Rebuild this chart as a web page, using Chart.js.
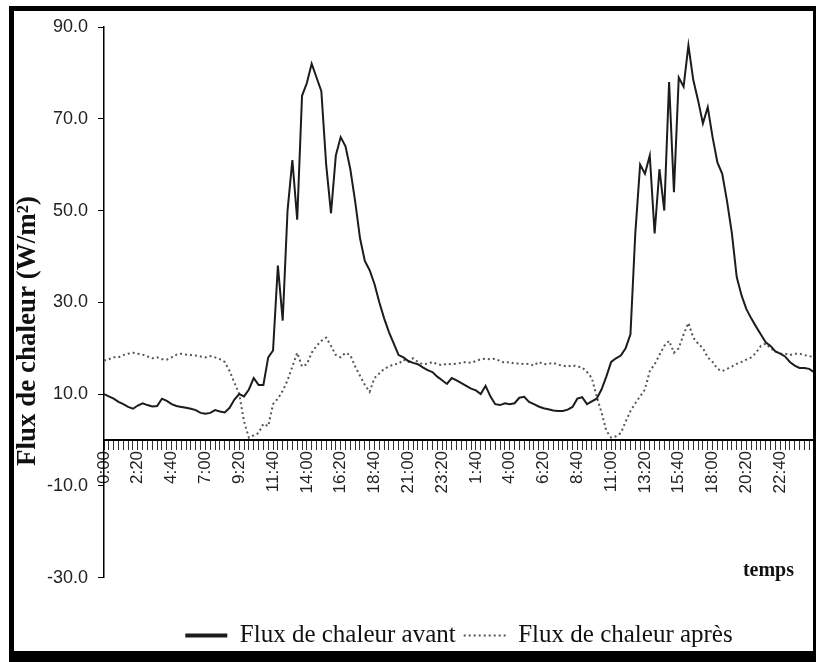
<!DOCTYPE html>
<html>
<head>
<meta charset="utf-8">
<script src="https://cdn.jsdelivr.net/npm/chart.js@4.4.1/dist/chart.umd.min.js"></script>
<style>
  html, body { margin: 0; padding: 0; background: #fff; }
  #wrap { position: relative; width: 816px; height: 662px; }
  #myChart { position: absolute; left: 0; top: 0; }
  #frame {
    position: absolute; left: 9px; top: 6px; right: 0; bottom: 0;
    border-left: 5px solid #000; border-top: 5px solid #000;
    border-right: 3px solid #000; border-bottom: 11px solid #000;
    pointer-events: none;
  }
</style>
</head>
<body>
<div id="wrap">
  <canvas id="myChart" width="816" height="662"></canvas>
  <div id="frame"></div>
</div>
<script>
// 20 minute steps over two days
const times = [];
for (let m = 0; m < 148 * 20; m += 20) {
    const h = Math.floor(m / 60) % 24;
    const mm = m % 60;
    times.push(h + ':' + (mm < 10 ? '0' + mm : mm));
}

const fluxAvant = [
    10, 9.5, 9, 8.3, 7.8, 7.2, 6.8, 7.5, 8, 7.6,
    7.3, 7.4, 9, 8.5, 7.8, 7.4, 7.2, 7, 6.8, 6.5,
    5.9, 5.7, 5.9, 6.5, 6.2, 6, 7, 8.8, 10, 9.5,
    11, 13.5, 12, 12, 18, 19.5, 38, 26, 50, 61,
    48, 75, 77.8, 82, 79, 76, 60, 49.4, 62, 66,
    64, 59, 52, 44, 39, 37, 34, 30, 26.5, 23.5,
    21, 18.5, 18, 17.2, 16.8, 16.5, 15.8, 15.2, 14.8, 13.8,
    13, 12.2, 13.5, 13, 12.4, 11.8, 11.2, 10.8, 10, 11.8,
    9.5, 7.8, 7.6, 8, 7.8, 8, 9.2, 9.4, 8.3, 7.8,
    7.3, 6.9, 6.7, 6.4, 6.3, 6.3, 6.6, 7.2, 9, 9.3,
    7.8, 8.4, 9, 11, 13.8, 17, 17.8, 18.4, 20, 23,
    45, 60, 58, 62, 45, 59, 50, 78, 54, 79,
    77, 86, 78.5, 74, 69, 72.5, 66, 60.5, 58, 52,
    45, 35.5, 31.5, 28.5, 26.5, 24.7, 23, 21.3, 20.5, 19.3,
    18.8, 18.2, 17, 16.2, 15.7, 15.7, 15.5, 14.8
];

const fluxApres = [
    17.3, 17.6, 18, 18, 18.5, 18.8, 19, 18.8, 18.6, 18.2,
    17.8, 18, 17.6, 17.5, 18, 18.6, 18.8, 18.6, 18.5, 18.4,
    18.2, 18, 18.3, 18, 17.6, 17, 15, 12.5, 10, 4,
    0.5, 1, 1.5, 3.5, 3, 7.8, 9, 10.7, 13, 16,
    19, 16, 16.5, 19, 20.5, 21.6, 22.3, 20.5, 18.5, 18,
    19, 18.5, 16, 14, 12, 10.5, 13.5, 14.5, 15.5, 16,
    16.5, 16.6, 17.5, 17, 17.8, 17, 16.5, 16.6, 17, 16.5,
    16.3, 16.6, 16.5, 16.6, 16.8, 17, 16.8, 17.2, 17.6, 17.7,
    17.6, 17.7, 17.2, 16.8, 17, 16.6, 16.7, 16.5, 16.6, 16.2,
    17, 16.5, 16.6, 16.8, 16.4, 16.2, 16, 16.3, 16, 15.8,
    14.8, 13.5, 9.5, 6, 2, 0.5, 0.8, 1.5, 4, 6.3,
    8, 9.5, 11, 15, 16.5, 18.5, 20.5, 21.6, 19, 20,
    23, 25.5, 22.3, 21, 20, 18, 17, 15.5, 15, 15.5,
    16, 16.6, 17, 17.5, 18, 19, 20.5, 21, 20, 19.3,
    18.8, 18.8, 18.5, 18.8, 18.8, 18.5, 18.3, 18
];

const seriesNames = ['Flux de chaleur avant', 'Flux de chaleur après'];
const yTicks = [-30, -10, 10, 30, 50, 70, 90];
const yTitle = 'Flux de chaleur (W/m²)';
const xTitle = 'temps';

// axis titles placed like the scanned figure
const axisTitles = {
    id: 'axisTitles',
    afterDraw(chart) {
        const {ctx, chartArea} = chart;
        ctx.save();
        ctx.fillStyle = '#111';
        ctx.font = 'bold 20px "Liberation Serif", serif';
        ctx.textAlign = 'right';
        ctx.textBaseline = 'middle';
        ctx.fillText(xTitle, chartArea.right - 20, 571);
        ctx.translate(28, 331);
        ctx.rotate(-Math.PI / 2);
        ctx.textAlign = 'center';
        ctx.font = 'bold 27px "Liberation Serif", serif';
        ctx.fillText(yTitle, 0, 0);
        ctx.restore();
    }
};

const data = {
    labels: times,
    datasets: [{
        label: seriesNames[0],
        data: fluxAvant,
        borderColor: '#1c1c1c',
        backgroundColor: '#1c1c1c',
        borderWidth: 2,
        pointRadius: 0,
        tension: 0
    }, {
        label: seriesNames[1],
        data: fluxApres,
        borderColor: '#555',
        backgroundColor: '#555',
        borderWidth: 2,
        borderDash: [2, 3],
        pointRadius: 0,
        tension: 0
    }]
};

const config = {
    type: 'line',
    data,
    plugins: [axisTitles],
    options: {
        responsive: false,
        animation: false,
        layout: { padding: { left: 10, top: 27, right: 2, bottom: 4 } },
        plugins: {
            tooltip: { enabled: false },
            legend: {
                position: 'bottom',
                fullSize: false,
                title: { display: true, text: '', font: { size: 12 }, padding: { top: 14, bottom: 9 } },
                labels: {
                    color: '#111',
                    usePointStyle: true,
                    pointStyleWidth: 42,
                    boxHeight: 6,
                    padding: 8,
                    font: { size: 25, family: '"Liberation Serif", serif' },
                    generateLabels(chart) {
                        const items = Chart.defaults.plugins.legend.labels.generateLabels(chart);
                        items.forEach((it, i) => {
                            it.pointStyle = 'line';
                            it.lineWidth = i === 0 ? 4 : 2;
                            it.lineDash = i === 0 ? [] : [2, 3];
                        });
                        return items;
                    }
                }
            }
        },
        scales: {
            x: {
                position: { y: 0 },
                afterFit(scale) { scale.paddingRight = 0; scale.paddingLeft = 0; },
                grid: { drawOnChartArea: false, drawTicks: true, tickLength: 9, color: '#333', lineWidth: 1 },
                border: { display: true, color: '#000', width: 2 },
                ticks: {
                    autoSkip: false,
                    maxRotation: 90,
                    minRotation: 90,
                    padding: 2,
                    color: '#222',
                    font: { size: 17, family: '"Liberation Sans", Arial, sans-serif' },
                    callback(val, index) {
                        return index % 7 === 0 && index <= 140 ? this.getLabelForValue(val) : '';
                    }
                }
            },
            y: {
                min: yTicks[0],
                max: yTicks[yTicks.length - 1],
                afterFit(scale) { scale.width = 94; },
                afterBuildTicks(scale) { scale.ticks = yTicks.map(v => ({ value: v })); },
                grid: { drawOnChartArea: false, drawTicks: true, tickLength: 6, color: '#000' },
                border: { display: true, color: '#000', width: 1.5 },
                ticks: {
                    color: '#222',
                    padding: 10,
                    font: { size: 18, family: '"Liberation Sans", Arial, sans-serif' },
                    callback(val) { return val.toFixed(1); }
                }
            }
        }
    }
};

const myChart = new Chart(document.getElementById('myChart'), config);
</script>
</body>
</html>
